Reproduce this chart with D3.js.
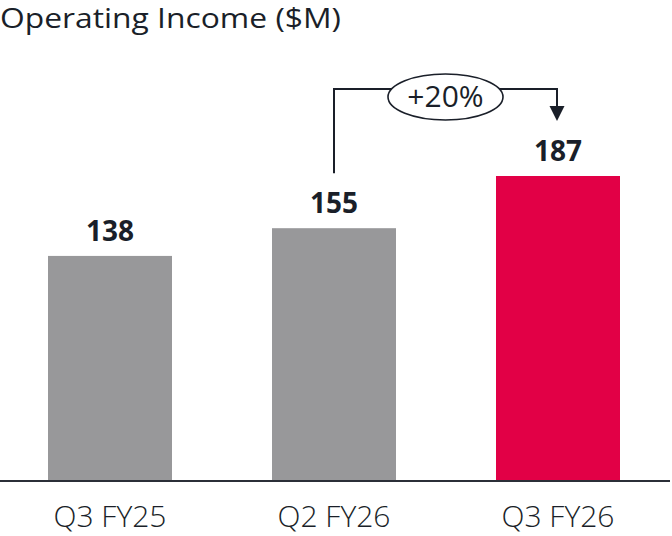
<!DOCTYPE html>
<html><head><meta charset="utf-8">
<script src="https://cdn.jsdelivr.net/npm/d3@7"></script>
<style>html,body{margin:0;padding:0;background:#fff;}svg{display:block;}</style>
</head><body>
<svg id="chart" width="672" height="536"></svg>
<script>
const categories = ["Q3 FY25", "Q2 FY26", "Q3 FY26"];
const values = [138, 155, 187];
const barColors = ["#98989a", "#98989a", "#e20046"];
const title = "Operating Income ($M)";
const growthLabel = "+20%";

const W = 672, H = 536;
const ink = "#1a1f29";
const font = "'Open Sans', 'Noto Sans', sans-serif";
const svg = d3.select("#chart");

const x = d3.scaleBand().domain(categories).range([-2, 670])
  .paddingInner(100/224).paddingOuter(50/224);
const y = d3.scaleLinear().domain([0, 187]).range([481, 176]);

// title
svg.append("text").attr("x", 0).attr("y", 28)
  .attr("font-family", font).attr("font-size", 27).attr("fill", ink)
  .attr("textLength", 341).attr("lengthAdjust", "spacingAndGlyphs")
  .text(title);

// bars
svg.selectAll("rect.bar").data(values).join("rect").attr("class", "bar")
  .attr("x", (d, i) => x(categories[i]))
  .attr("width", x.bandwidth())
  .attr("y", d => y(d))
  .attr("height", d => y(0) - y(d))
  .attr("fill", (d, i) => barColors[i]);

// value labels
svg.selectAll("text.val").data(values).join("text").attr("class", "val")
  .attr("x", (d, i) => x(categories[i]) + x.bandwidth()/2)
  .attr("y", d => y(d) - 15)
  .attr("text-anchor", "middle")
  .attr("font-family", font).attr("font-weight", 700).attr("font-size", 28)
  .attr("fill", ink)
  .text(d => d);

// baseline axis
const axis = d3.axisBottom(x).tickSize(0).tickPadding(0);
const gx = svg.append("g").attr("transform", `translate(0,${y(0)})`).call(axis);
gx.select(".domain").attr("d", `M0,0H670`).attr("stroke", "#2b2f38").attr("stroke-width", 2);
gx.selectAll(".tick text")
  .attr("y", 46).attr("dy", 0)
  .attr("font-family", font).attr("font-weight", 300).attr("font-size", 30)
  .attr("fill", ink);

// growth annotation
const c2 = x(categories[1]) + x.bandwidth()/2;
const c3 = x(categories[2]) + x.bandwidth()/2;
const lineY = 89;
const ex = (c2 + c3)/2 - 0.5, ey = 97, rx = 57.5, ry = 23;
const dxI = rx * Math.sqrt(1 - Math.pow((lineY - ey)/ry, 2));
svg.append("path")
  .attr("d", `M${c2},${y(values[1]) - 55}V${lineY}H${ex - dxI}`)
  .attr("fill", "none").attr("stroke", ink).attr("stroke-width", 2);
svg.append("path")
  .attr("d", `M${ex + dxI},${lineY}H${c3 - 1}V${108}`)
  .attr("fill", "none").attr("stroke", ink).attr("stroke-width", 2);
svg.append("path")
  .attr("d", `M${c3 - 8.5},106L${c3 + 6.5},106L${c3 - 1},121Z`)
  .attr("fill", ink);
svg.append("ellipse").attr("cx", ex).attr("cy", ey).attr("rx", rx).attr("ry", ry)
  .attr("fill", "#fff").attr("stroke", ink).attr("stroke-width", 1.6);
svg.append("text").attr("x", ex).attr("y", 107)
  .attr("text-anchor", "middle")
  .attr("font-family", font).attr("font-size", 30).attr("fill", ink)
  .text(growthLabel);
</script>
</body></html>
